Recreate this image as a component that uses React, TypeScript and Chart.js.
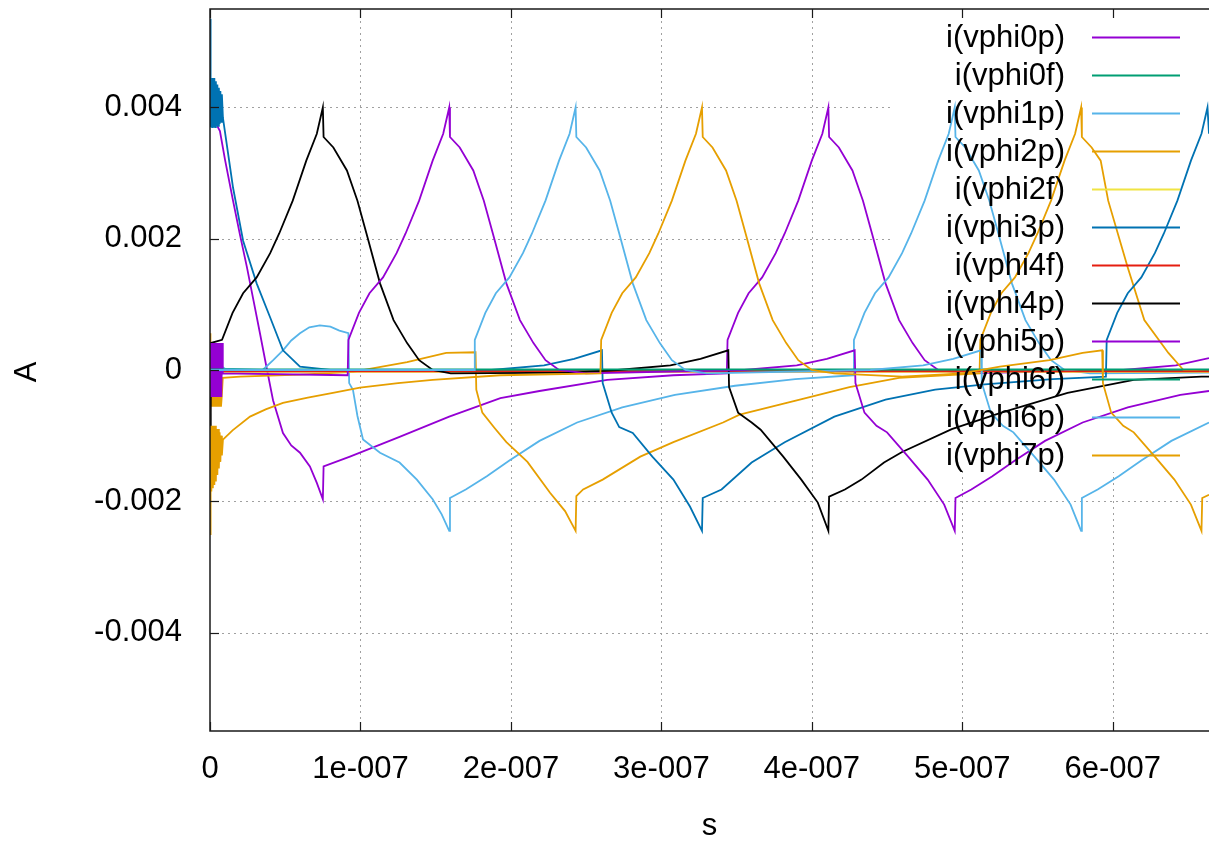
import React, { useEffect, useRef } from 'react';
import { Chart, registerables } from 'chart.js';

Chart.register(...registerables);

// ---- axes (time in ns, current in mA) ----
const X_MIN = 0;
const X_MAX = 664;
const Y_MIN = -5.5;
const Y_MAX = 5.5;
const X_TICKS = [0, 100, 200, 300, 400, 500, 600];
const X_TICK_LABELS = ['0', '1e-007', '2e-007', '3e-007', '4e-007', '5e-007', '6e-007'];
const Y_TICKS = [-4, -2, 0, 2, 4];
const Y_TICK_LABELS = ['-0.004', '-0.002', '0', '0.002', '0.004'];
const X_TITLE = 's';
const Y_TITLE = 'A';

const SERIES_LABELS = [
  'i(vphi0p)', 'i(vphi0f)', 'i(vphi1p)', 'i(vphi2p)', 'i(vphi2f)', 'i(vphi3p)',
  'i(vphi4f)', 'i(vphi4p)', 'i(vphi5p)', 'i(vphi6f)', 'i(vphi6p)', 'i(vphi7p)',
];
const SERIES_COLORS = [
  '#9400d3', '#009e73', '#56b4e9', '#e69f00', '#f0e442', '#0072b2',
  '#e51e10', '#000000', '#9400d3', '#009e73', '#56b4e9', '#e69f00',
];

// ---- series: [time ns, current mA] ----
const PHI0P: [number, number][] = [
  [0, 4.3], [0.5, 3.9], [3, 3.8], [6.6, 3.64], [10, 3.2], [15.3, 2.58], [20, 2.05], [24.6, 1.56],
  [29, 1.05], [33.2, 0.56], [37.5, 0.05], [41.9, -0.46], [48.5, -0.96], [54, -1.15], [59.8, -1.26],
  [66.4, -1.47], [71, -1.72], [75, -1.97], [75.5, -1.47], [93, -1.32], [126, -1.02], [159, -0.71],
  [193, -0.43], [219, -0.32], [264, -0.15], [308, -0.08], [343.5, -0.05], [344, 0.46], [351, 0.87],
  [358, 1.17], [367, 1.41], [376, 1.78], [382, 2.08], [391, 2.58], [400, 3.19], [407, 3.6], [411, 4.0],
  [411.5, 3.55], [418, 3.39], [427, 3.04], [434, 2.58], [440, 2.08], [449, 1.32], [458, 0.76],
  [467, 0.41], [475, 0.15], [484, 0.0], [500, -0.05], [607, 0.0], [642, 0.07], [664, 0.18],
];
const PHI0F: [number, number][] = [[0, 0.03], [8, 0.0], [664, 0.0]];
const PHI1P: [number, number][] = [
  [0, 0.12], [0.5, -0.1], [1, 0.12], [1.5, -0.1], [2, 0.12], [2.5, -0.1], [3, 0.12], [3.5, -0.1],
  [4, 0.12], [4.5, -0.1], [5, 0.12], [5.5, -0.1], [6, 0.12], [6.5, -0.1], [7, 0.12], [7.5, -0.1],
  [8, 0.05], [10, 0.02], [35, 0.0], [42, 0.15], [48.5, 0.3], [54, 0.45], [59.8, 0.56], [66, 0.65],
  [73, 0.68], [80, 0.66], [86, 0.6], [92, 0.56], [92.5, -0.2], [95, -0.3], [98, -0.7], [101.7, -1.06],
  [113, -1.26], [126, -1.41], [137.5, -1.67], [148, -1.97], [154, -2.2], [159, -2.45], [159.5, -1.95],
  [170, -1.82], [184, -1.62], [199, -1.38], [219, -1.08], [244, -0.8], [274, -0.57], [309, -0.38],
  [349, -0.24], [389, -0.14], [427.5, -0.08], [428, 0.46], [435, 0.87], [442, 1.17], [451, 1.41],
  [460, 1.78], [466, 2.08], [475, 2.58], [484, 3.19], [491, 3.6], [495, 4.0], [495.5, 3.55],
  [502, 3.39], [511, 3.04], [518, 2.58], [524, 2.08], [533, 1.32], [542, 0.76], [551, 0.41],
  [559, 0.15], [568, 0.0], [585, -0.05], [664, -0.04],
];
const PHI2P: [number, number][] = [
  [0, 0.56], [0.3, -0.56], [0.8, -0.41], [1.3, -0.56], [1.8, -0.41], [2.3, -0.56], [2.8, -0.41],
  [3.3, -0.56], [3.8, -0.41], [4.3, -0.56], [4.8, -0.41], [5.3, -0.56], [5.8, -0.41], [6.3, -0.56],
  [6.8, -0.41], [7.3, -0.56], [7.8, -0.41], [8.5, -0.12], [20, -0.1], [60, -0.07], [95, -0.03],
  [131, 0.12], [157, 0.26], [176.5, 0.27], [177, -0.3], [181, -0.65], [189, -0.88], [197, -1.1],
  [211, -1.4], [226, -1.87], [236, -2.15], [243, -2.45], [243.5, -1.92], [248, -1.82], [261, -1.67],
  [286, -1.32], [308, -1.1], [341, -0.8], [352, -0.68], [392, -0.45], [425, -0.26], [458, -0.12],
  [511.5, -0.05], [512, 0.46], [519, 0.87], [526, 1.17], [535, 1.41], [544, 1.78], [550, 2.08],
  [559, 2.58], [568, 3.19], [575, 3.6], [579, 4.0], [579.5, 3.55], [586, 3.39], [592, 3.19],
  [597, 2.58], [610, 1.56], [621, 0.76], [637, 0.26], [647, 0.0], [664, -0.03],
];
const PHI2F: [number, number][] = [[0, -0.03], [664, -0.03]];
const PHI3P: [number, number][] = [
  [0, 5.35], [0.4, 3.7], [0.9, 4.45], [1.4, 3.7], [1.9, 4.45], [2.4, 3.7], [2.9, 4.45], [3.4, 3.7],
  [3.9, 4.4], [4.4, 3.72], [4.9, 4.35], [5.4, 3.72], [5.9, 4.3], [6.4, 3.75], [6.9, 4.25], [7.4, 3.78],
  [7.9, 4.2], [8.6, 3.84], [15.3, 2.78], [22, 1.97], [31, 1.32], [40, 0.8], [48.5, 0.3], [59.8, 0.05],
  [80, 0.0], [187, 0.0], [222, 0.07], [242, 0.17], [260.5, 0.3], [261, -0.2], [267, -0.65],
  [272, -0.87], [281, -0.96], [294, -1.32], [308, -1.67], [319, -2.08], [327, -2.45], [327.5, -1.95],
  [340, -1.82], [360, -1.41], [382, -1.1], [415, -0.71], [449, -0.45], [482, -0.3], [515, -0.22],
  [560, -0.14], [595.5, -0.1], [596, 0.46], [603, 0.87], [610, 1.17], [619, 1.41], [628, 1.78],
  [634, 2.08], [643, 2.58], [652, 3.19], [659, 3.6], [663, 4.0], [664, 3.6],
];
const PHI4F: [number, number][] = [[0, -0.02], [664, -0.02]];
const PHI4P: [number, number][] = [
  [0, -1.0], [0.5, 0.41], [8, 0.46], [15, 0.87], [22, 1.17], [31, 1.41], [40, 1.78], [46, 2.08],
  [55, 2.58], [64, 3.19], [71, 3.6], [75, 4.0], [75.5, 3.55], [82, 3.39], [91, 3.04], [98, 2.58],
  [104, 2.08], [113, 1.32], [122, 0.76], [131, 0.41], [139, 0.15], [148, 0.0], [160, -0.05],
  [240, -0.04], [271, 0.0], [306, 0.07], [326, 0.17], [344.5, 0.3], [345, -0.26], [351, -0.65],
  [360, -0.8], [366, -0.91], [381, -1.32], [393, -1.67], [404, -2.02], [411, -2.45], [411.5, -1.93],
  [422, -1.82], [433, -1.67], [448, -1.41], [460, -1.25], [493, -0.9], [526, -0.65], [570, -0.35],
  [614, -0.15], [659, -0.1], [664, -0.1],
];
const PHI5P: [number, number][] = [
  [0, 0.41], [0.5, -0.41], [1, 0.41], [1.5, -0.41], [2, 0.41], [2.5, -0.41], [3, 0.41], [3.5, -0.41],
  [4, 0.41], [4.5, -0.41], [5, 0.41], [5.5, -0.41], [6, 0.41], [6.5, -0.41], [7, 0.41], [7.5, -0.41],
  [8, 0.41], [8.5, -0.05], [91.5, -0.08], [92, 0.46], [99, 0.87], [106, 1.17], [115, 1.41],
  [124, 1.78], [130, 2.08], [139, 2.58], [148, 3.19], [155, 3.6], [159, 4.0], [159.5, 3.55],
  [166, 3.39], [175, 3.04], [182, 2.58], [188, 2.08], [197, 1.32], [206, 0.76], [215, 0.41],
  [223, 0.15], [232, 0.0], [250, -0.05], [355, 0.0], [390, 0.07], [410, 0.17], [428.5, 0.3],
  [429, -0.2], [435, -0.65], [443, -0.85], [450, -0.95], [464, -1.32], [477, -1.67], [488, -2.05],
  [495, -2.45], [495.5, -1.95], [506, -1.82], [520, -1.62], [535, -1.38], [555, -1.08], [580, -0.8],
  [610, -0.57], [645, -0.38], [664, -0.32],
];
const PHI6F: [number, number][] = [[0, 0.01], [664, 0.01]];
const PHI6P: [number, number][] = [
  [0, 0.0], [175.5, 0.0], [176, 0.46], [183, 0.87], [190, 1.17], [199, 1.41], [208, 1.78],
  [214, 2.08], [223, 2.58], [232, 3.19], [239, 3.6], [243, 4.0], [243.5, 3.55], [250, 3.39],
  [259, 3.04], [266, 2.58], [272, 2.08], [281, 1.32], [290, 0.76], [299, 0.41], [307, 0.15],
  [316, 0.0], [330, -0.05], [439, 0.0], [474, 0.07], [494, 0.17], [512.5, 0.3], [513, -0.2],
  [519, -0.65], [527, -0.85], [534, -0.95], [548, -1.32], [561, -1.67], [572, -2.05], [579, -2.45],
  [579.5, -1.95], [590, -1.82], [604, -1.62], [619, -1.38], [639, -1.08], [664, -0.8],
];
const PHI7P: [number, number][] = [
  [0, -2.5], [0.4, -0.85], [0.9, -1.85], [1.4, -0.85], [1.9, -1.8], [2.4, -0.85], [2.9, -1.75],
  [3.4, -0.85], [3.9, -1.7], [4.4, -0.9], [4.9, -1.6], [5.4, -0.9], [5.9, -1.5], [6.4, -0.95],
  [6.9, -1.4], [7.4, -1.0], [7.9, -1.3], [8.6, -1.06], [15, -0.92], [26.6, -0.71], [37, -0.6],
  [48.5, -0.5], [65, -0.42], [81.7, -0.35], [99.7, -0.27], [125, -0.2], [148, -0.15], [193, -0.08],
  [259.5, -0.05], [260, 0.46], [267, 0.87], [274, 1.17], [283, 1.41], [292, 1.78], [298, 2.08],
  [307, 2.58], [316, 3.19], [323, 3.6], [327, 4.0], [327.5, 3.55], [334, 3.39], [343, 3.04],
  [350, 2.58], [356, 2.08], [365, 1.32], [374, 0.76], [383, 0.41], [391, 0.15], [400, 0.0],
  [415, -0.05], [460, -0.1], [500, -0.05], [525, 0.05], [558, 0.15], [580, 0.26], [593, 0.3],
  [593.5, -0.2], [599, -0.65], [607, -0.85], [614, -0.95], [628, -1.32], [641, -1.67], [652, -2.05],
  [659, -2.45], [659.5, -1.95], [664, -1.9],
];

const SERIES = [PHI0P, PHI0F, PHI1P, PHI2P, PHI2F, PHI3P, PHI4F, PHI4P, PHI5P, PHI6F, PHI6P, PHI7P];

const FONT = '"Liberation Sans", Arial, sans-serif';
const FONT_SIZE = 31;

const gnuplotDecor = {
  id: 'gnuplotDecor',
  beforeDatasetsDraw(chart: any) {
    const { ctx, chartArea: a, scales } = chart;
    const xs = scales.x;
    const ys = scales.y;
    ctx.save();
    ctx.strokeStyle = '#a0a0a0';
    ctx.lineWidth = 1;
    ctx.setLineDash([2, 4]);
    for (const v of X_TICKS) {
      if (v === X_MIN) continue;
      const px = Math.round(xs.getPixelForValue(v)) + 0.5;
      ctx.beginPath();
      ctx.moveTo(px, a.bottom);
      ctx.lineTo(px, a.top);
      ctx.stroke();
    }
    for (const v of Y_TICKS) {
      const py = Math.round(ys.getPixelForValue(v)) + 0.5;
      ctx.beginPath();
      ctx.moveTo(a.left, py);
      ctx.lineTo(a.right, py);
      ctx.stroke();
    }
    ctx.setLineDash([]);
    // key area (covers the grid)
    ctx.fillStyle = '#ffffff';
    ctx.fillRect(893, 18, a.right - 893, 454);
    ctx.restore();
  },
  afterDatasetsDraw(chart: any) {
    const { ctx, chartArea: a, scales } = chart;
    const xs = scales.x;
    const ys = scales.y;
    ctx.save();
    // border
    ctx.strokeStyle = '#1a1a1a';
    ctx.lineWidth = 1.5;
    ctx.beginPath();
    ctx.moveTo(a.right + 2, a.top);
    ctx.lineTo(a.left, a.top);
    ctx.lineTo(a.left, a.bottom);
    ctx.lineTo(a.right + 2, a.bottom);
    ctx.stroke();
    // ticks
    ctx.lineWidth = 1.2;
    const tl = 9;
    for (const v of X_TICKS) {
      const px = Math.round(xs.getPixelForValue(v)) + 0.5;
      ctx.beginPath();
      ctx.moveTo(px, a.bottom);
      ctx.lineTo(px, a.bottom - tl);
      ctx.moveTo(px, a.top);
      ctx.lineTo(px, a.top + tl);
      ctx.stroke();
    }
    for (const v of Y_TICKS) {
      const py = Math.round(ys.getPixelForValue(v)) + 0.5;
      ctx.beginPath();
      ctx.moveTo(a.left, py);
      ctx.lineTo(a.left + tl, py);
      ctx.stroke();
    }
    // key
    ctx.font = `${FONT_SIZE}px ${FONT}`;
    ctx.fillStyle = '#000';
    ctx.textAlign = 'right';
    ctx.textBaseline = 'middle';
    const ds = chart.data.datasets;
    for (let i = 0; i < ds.length; i++) {
      const ry = 37 + i * 38;
      ctx.fillText(ds[i].label, 1065, ry + 1);
      ctx.strokeStyle = ds[i].borderColor;
      ctx.lineWidth = 2;
      ctx.beginPath();
      ctx.moveTo(1092, ry + 0.5);
      ctx.lineTo(1180, ry + 0.5);
      ctx.stroke();
    }
    // axis titles
    ctx.textAlign = 'center';
    ctx.textBaseline = 'alphabetic';
    ctx.fillText(X_TITLE, (a.left + a.right) / 2, 835);
    ctx.save();
    ctx.translate(27, 372);
    ctx.rotate(-Math.PI / 2);
    ctx.textBaseline = 'middle';
    ctx.fillText(Y_TITLE, 0, 0);
    ctx.restore();
    ctx.restore();
  },
};

export default function App() {
  const canvasRef = useRef<HTMLCanvasElement | null>(null);

  useEffect(() => {
    const canvas = canvasRef.current;
    if (!canvas) return;
    const datasets = SERIES.map((s, i) => ({
      label: SERIES_LABELS[i],
      data: s.map(([t, v]) => ({ x: t, y: v })),
      borderColor: SERIES_COLORS[i],
      backgroundColor: SERIES_COLORS[i],
      borderWidth: 1.8,
      pointRadius: 0,
      fill: false,
      tension: 0,
      order: SERIES.length - i,
    }));
    const chart = new Chart(canvas, {
      type: 'line',
      data: { datasets },
      options: {
        animation: false,
        responsive: false,
        events: [],
        layout: { padding: { top: 9, left: 0, right: 0, bottom: 0 } },
        plugins: { legend: { display: false }, tooltip: { enabled: false } },
        scales: {
          x: {
            type: 'linear',
            min: X_MIN,
            max: X_MAX,
            grid: { display: false, drawTicks: false },
            border: { display: false },
            afterBuildTicks: (s: any) => {
              s.ticks = X_TICKS.map((v) => ({ value: v }));
            },
            afterFit: (s: any) => {
              s.height = 112;
              s.paddingLeft = 0;
              s.paddingRight = 0;
            },
            ticks: {
              autoSkip: false,
              maxRotation: 0,
              minRotation: 0,
              color: '#000',
              padding: 20,
              font: { family: FONT, size: FONT_SIZE },
              callback: (v: any) => {
                const k = X_TICKS.indexOf(Number(v));
                return k >= 0 ? X_TICK_LABELS[k] : '';
              },
            },
          },
          y: {
            type: 'linear',
            min: Y_MIN,
            max: Y_MAX,
            grid: { display: false, drawTicks: false },
            border: { display: false },
            afterBuildTicks: (s: any) => {
              s.ticks = Y_TICKS.map((v) => ({ value: v }));
            },
            afterFit: (s: any) => {
              s.width = 210;
              s.paddingTop = 0;
              s.paddingBottom = 0;
            },
            ticks: {
              autoSkip: false,
              color: '#000',
              padding: 28,
              font: { family: FONT, size: FONT_SIZE },
              callback: (v: any) => {
                const k = Y_TICKS.indexOf(Number(v));
                return k >= 0 ? Y_TICK_LABELS[k] : '';
              },
            },
          },
        },
      },
      plugins: [gnuplotDecor],
    } as any);
    return () => chart.destroy();
  }, []);

  return (
    <div style={{ position: 'absolute', left: 0, top: 0, width: 1209, height: 843, overflow: 'hidden', background: '#fff' }}>
      <canvas ref={canvasRef} width={1209} height={843} style={{ display: 'block' }} />
    </div>
  );
}
